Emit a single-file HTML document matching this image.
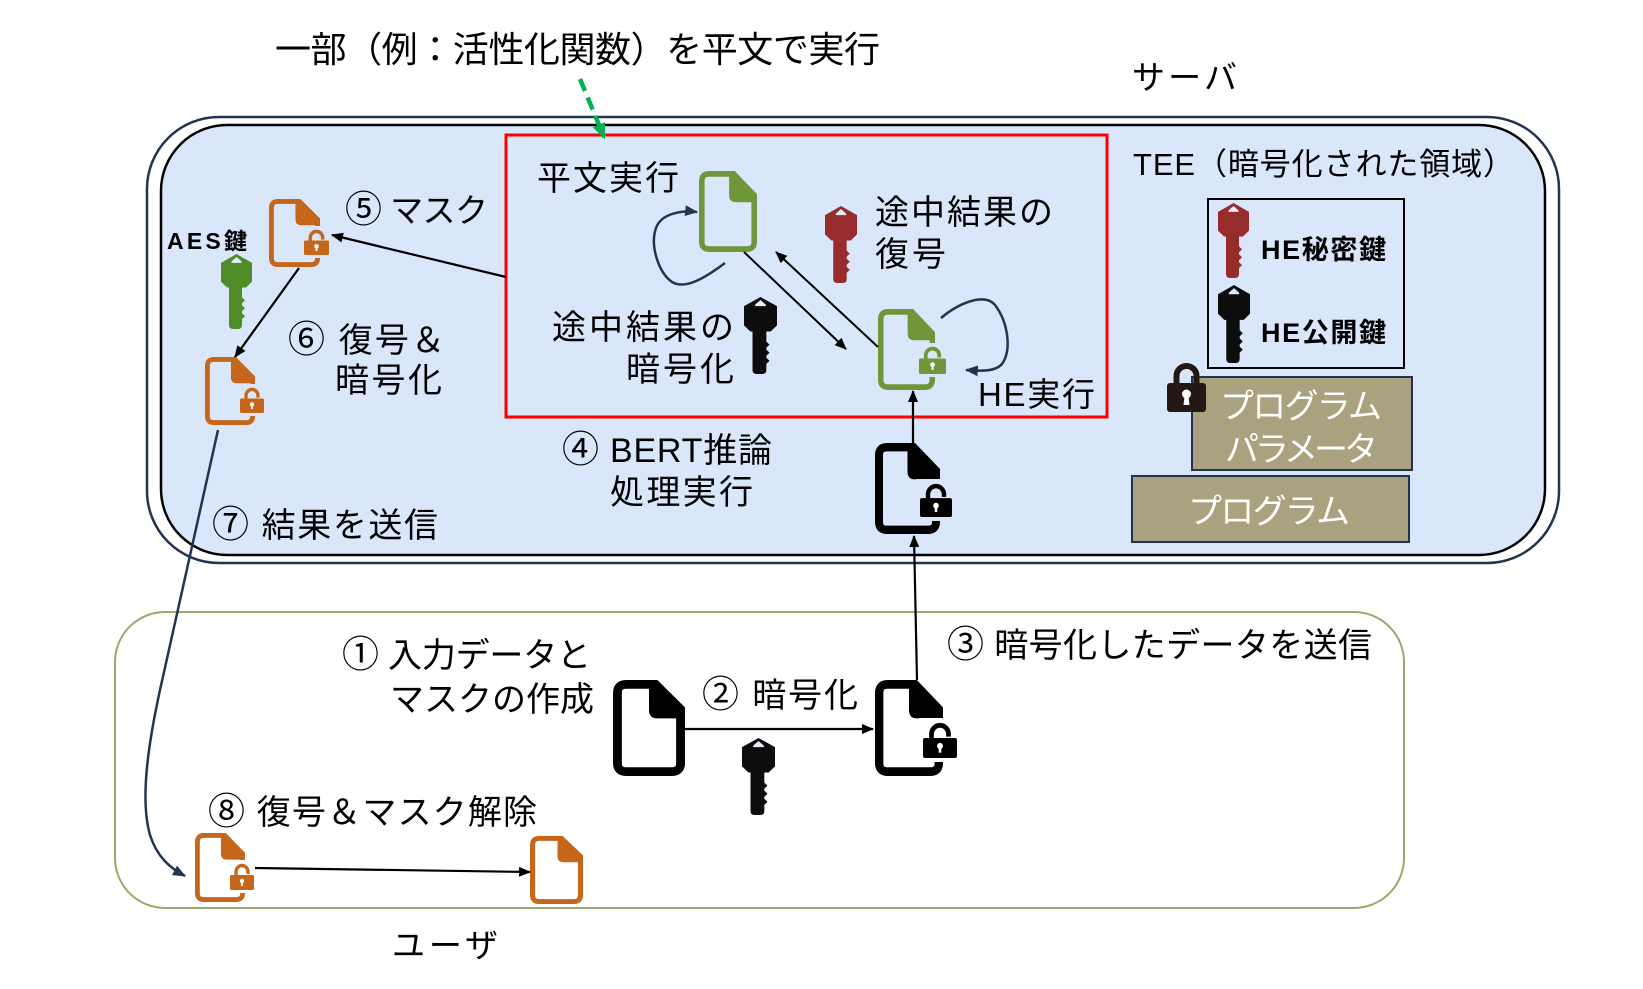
<!DOCTYPE html>
<html><head><meta charset="utf-8">
<style>
html,body{margin:0;padding:0;background:#fff;width:1643px;height:989px;overflow:hidden}
svg text{font-family:"Liberation Sans","Noto Sans CJK JP",sans-serif;fill:#000}
tspan.c{font-size:37px}
</style></head>
<body>
<svg width="1643" height="989" viewBox="0 0 1643 989" xmlns="http://www.w3.org/2000/svg">
<defs>
  <symbol id="doc" viewBox="0 0 52 70" preserveAspectRatio="none">
    <path d="M29,2.5 H9 Q2.5,2.5 2.5,9 V61 Q2.5,67.5 9,67.5 H43 Q49.5,67.5 49.5,61 V23" fill="none" stroke="currentColor" stroke-width="5"/>
    <path d="M27,0 H32 L52,20 V27 H33 Q27,27 27,21 Z" fill="currentColor"/>
  </symbol>
  <symbol id="docb" viewBox="0 0 52 70" preserveAspectRatio="none">
    <path d="M29,3.2 H9.5 Q3.2,3.2 3.2,9.5 V60.5 Q3.2,66.8 9.5,66.8 H42.5 Q48.8,66.8 48.8,60.5 V23" fill="none" stroke="currentColor" stroke-width="6.4"/>
    <path d="M26,0 H32 L52,20 V28 H32 Q26,28 26,22 Z" fill="currentColor"/>
  </symbol>
  <symbol id="lock" viewBox="0 0 26 27" preserveAspectRatio="none">
    <path d="M6.5,13 V9 A6.5,6.5 0 0 1 19.5,9 V11" fill="none" stroke="currentColor" stroke-width="3.6"/>
    <rect x="0" y="12" width="26" height="15" rx="1.5" fill="currentColor"/>
    <circle cx="13" cy="18" r="2.3" fill="#fff"/>
    <rect x="12" y="18" width="2" height="5" fill="#fff"/>
  </symbol>
  <symbol id="key" viewBox="0 0 31 76" preserveAspectRatio="none">
    <path d="M15.5,0 L31,9 V28 L25,34 H21 V44 L24,47 L21,50 V52 L24,55 L21,58 V60 L24,63 L21,66 V72 Q21,76 17,76 H12 Q8,76 8,72 V34 H6 L0,28 V9 Z" fill="currentColor"/>
    <path d="M15.5,3 L10.5,7.5 V9 H20.5 V7.5 Z" fill="#e4ecf9"/>
  </symbol>
  <marker id="ab" viewBox="0 0 12 10" refX="11" refY="5" markerWidth="12" markerHeight="10" markerUnits="userSpaceOnUse" orient="auto">
    <path d="M0,0 L12,5 L0,10 Z" fill="#000"/>
  </marker>
  <marker id="an" viewBox="0 0 12 10" refX="11" refY="5" markerWidth="13" markerHeight="11" markerUnits="userSpaceOnUse" orient="auto">
    <path d="M0,0 L12,5 L0,10 Z" fill="#223550"/>
  </marker>
  <marker id="ag" viewBox="0 0 12 10" refX="10" refY="5" markerWidth="16" markerHeight="14" markerUnits="userSpaceOnUse" orient="auto">
    <path d="M0,0 L12,5 L0,10 Z" fill="#00b050"/>
  </marker>
</defs>

<!-- server boxes -->
<rect x="147" y="117" width="1412" height="446" rx="72" ry="72" fill="#fff" stroke="#223550" stroke-width="2.5"/>
<rect x="161" y="125" width="1384" height="430" rx="66" ry="66" fill="#dae7fb" stroke="#000" stroke-width="2.5"/>

<!-- user box -->
<rect x="115" y="612" width="1289" height="296" rx="50" ry="50" fill="#fff" stroke="#a0a56f" stroke-width="2"/>

<!-- red box -->
<rect x="506" y="135" width="601" height="282" fill="none" stroke="#ff0000" stroke-width="3"/>

<!-- green dashed arrow -->
<line x1="580" y1="79" x2="604" y2="137" stroke="#00b050" stroke-width="4.5" stroke-dasharray="13,7" marker-end="url(#ag)"/>

<!-- TEE key box -->
<rect x="1208" y="199" width="196" height="169" fill="none" stroke="#000" stroke-width="2"/>
<use href="#key" x="1218" y="203" width="31" height="75" color="#962c2c"/>
<use href="#key" x="1218" y="285" width="32" height="78" color="#0d0d0d"/>
<text x="1261" y="259" font-size="27" font-weight="bold" textLength="125">HE秘密鍵</text>
<text x="1261" y="342" font-size="27" font-weight="bold" textLength="125">HE公開鍵</text>

<!-- param & program boxes -->
<rect x="1192" y="377" width="220" height="93" fill="#aaa17f" stroke="#1f3350" stroke-width="2"/>
<rect x="1132" y="476" width="277" height="66" fill="#aaa17f" stroke="#1f3350" stroke-width="2"/>
<text x="1220" y="418" font-size="34" textLength="162" style="fill:#fff">プログラム</text>
<text x="1225" y="461" font-size="34" textLength="153" style="fill:#fff">パラメータ</text>
<text x="1188" y="523" font-size="34" textLength="162" style="fill:#fff">プログラム</text>

<!-- big padlock -->
<g transform="translate(1167,363)">
  <path d="M9.5,22 V13 A10,10 0 0 1 29.5,13 V22" fill="none" stroke="#231815" stroke-width="6"/>
  <rect x="0" y="20" width="39" height="29" rx="3" fill="#231815"/>
  <circle cx="19.5" cy="31" r="4.5" fill="#fff"/>
  <path d="M17.5,33 L16.5,42 H22.5 L21.5,33 Z" fill="#fff"/>
</g>

<!-- orange docs in server -->
<use href="#doc" x="269" y="199" width="51" height="68" color="#c5661b"/>
<rect x="301" y="226" width="31" height="32" fill="#dae7fb"/>
<use href="#lock" x="304" y="229" width="25" height="26" color="#c5661b"/>

<use href="#doc" x="205" y="357" width="50" height="68" color="#c5661b"/>
<rect x="237" y="384" width="30" height="32" fill="#dae7fb"/>
<use href="#lock" x="240" y="387" width="24" height="26" color="#c5661b"/>

<use href="#key" x="221" y="254" width="31" height="75" color="#4f8b26"/>

<!-- green docs -->
<use href="#doc" x="699" y="171" width="58" height="81" color="#70963a"/>
<use href="#doc" x="878" y="309" width="57" height="81" color="#70963a"/>
<rect x="916" y="343" width="33" height="34" fill="#dae7fb"/>
<use href="#lock" x="919" y="346" width="27" height="28" color="#70963a"/>

<!-- middle keys -->
<use href="#key" x="825" y="206" width="32" height="77" color="#962c2c"/>
<use href="#key" x="744" y="297" width="33" height="77" color="#0d0d0d"/>

<!-- black doc in server -->
<use href="#docb" x="875" y="443" width="65" height="91" color="#000"/>
<rect x="916" y="479" width="40" height="42" fill="#dae7fb"/>
<use href="#lock" x="920" y="483" width="32" height="34" color="#000"/>

<!-- user docs -->
<use href="#docb" x="613" y="680" width="72" height="96" color="#000"/>
<use href="#docb" x="875" y="680" width="68" height="96" color="#000"/>
<rect x="919" y="718" width="42" height="44" fill="#fff"/>
<use href="#lock" x="923" y="722" width="34" height="36" color="#000"/>
<use href="#key" x="742" y="738" width="33" height="77" color="#0d0d0d"/>

<use href="#doc" x="195" y="833" width="50" height="69" color="#c5661b"/>
<rect x="227" y="860" width="30" height="33" fill="#fff"/>
<use href="#lock" x="230" y="863" width="24" height="27" color="#c5661b"/>
<use href="#doc" x="530" y="836" width="53" height="68" color="#c5661b"/>

<!-- arrows -->
<line x1="506" y1="277" x2="332" y2="235" stroke="#000" stroke-width="2.2" marker-end="url(#ab)"/>
<line x1="299" y1="268" x2="235" y2="357" stroke="#000" stroke-width="2.2" marker-end="url(#ab)"/>
<line x1="744" y1="252" x2="846" y2="349" stroke="#000" stroke-width="2" marker-end="url(#ab)"/>
<line x1="878" y1="347" x2="776" y2="252" stroke="#000" stroke-width="2" marker-end="url(#ab)"/>
<line x1="913" y1="443" x2="913" y2="391" stroke="#000" stroke-width="2.2" marker-end="url(#ab)"/>
<line x1="917" y1="680" x2="914" y2="536" stroke="#000" stroke-width="2.2" marker-end="url(#ab)"/>
<line x1="685" y1="729" x2="873" y2="729" stroke="#000" stroke-width="2.2" marker-end="url(#ab)"/>
<line x1="255" y1="868" x2="530" y2="872" stroke="#000" stroke-width="2.2" marker-end="url(#ab)"/>

<path d="M725,263 C705,278 685,290 672,282 C658,272 650,245 656,228 C661,214 680,210 697,212" fill="none" stroke="#223550" stroke-width="2.5" marker-end="url(#an)"/>
<path d="M941,318 C960,302 985,293 995,305 C1008,322 1012,350 1002,364 C995,372 980,371 966,370" fill="none" stroke="#223550" stroke-width="2.5" marker-end="url(#an)"/>
<path d="M218,430 L160,690 C148,745 140,800 150,835 C157,857 170,868 185,876" fill="none" stroke="#223550" stroke-width="2.5" marker-end="url(#an)"/>

<!-- texts -->
<text x="275" y="62" font-size="36" textLength="605">一部（例：活性化関数）を平文で実行</text>
<text x="1132" y="89" font-size="33" textLength="105">サーバ</text>
<text x="1133" y="175" font-size="31" textLength="381">TEE（暗号化された領域）</text>
<text x="537" y="190" font-size="34" textLength="142">平文実行</text>
<text x="345" y="222" font-size="33" textLength="143"><tspan class="c">⑤</tspan> マスク</text>
<text x="167" y="249" font-size="23" font-weight="bold" textLength="80">AES鍵</text>
<text x="875" y="224" font-size="34" textLength="178">途中結果の</text>
<text x="875" y="266" font-size="34" textLength="71">復号</text>
<text x="288" y="352" font-size="34" textLength="157"><tspan class="c">⑥</tspan> 復号＆</text>
<text x="335" y="392" font-size="34" textLength="107">暗号化</text>
<text x="552" y="339" font-size="34" textLength="182">途中結果の</text>
<text x="626" y="381" font-size="34" textLength="108">暗号化</text>
<text x="978" y="406" font-size="33" textLength="117">HE実行</text>
<text x="562" y="462" font-size="34" textLength="210"><tspan class="c">④</tspan> BERT推論</text>
<text x="610" y="504" font-size="34" textLength="143">処理実行</text>
<text x="212" y="537" font-size="34" textLength="226"><tspan class="c">⑦</tspan> 結果を送信</text>
<text x="342" y="667" font-size="34" textLength="249"><tspan class="c">①</tspan> 入力データと</text>
<text x="390" y="711" font-size="34" textLength="204">マスクの作成</text>
<text x="702" y="707" font-size="34" textLength="156"><tspan class="c">②</tspan> 暗号化</text>
<text x="947" y="657" font-size="34" textLength="425"><tspan class="c">③</tspan> 暗号化したデータを送信</text>
<text x="208" y="824" font-size="34" textLength="329"><tspan class="c">⑧</tspan> 復号＆マスク解除</text>
<text x="392" y="957" font-size="33" textLength="106">ユーザ</text>
</svg>
</body></html>
